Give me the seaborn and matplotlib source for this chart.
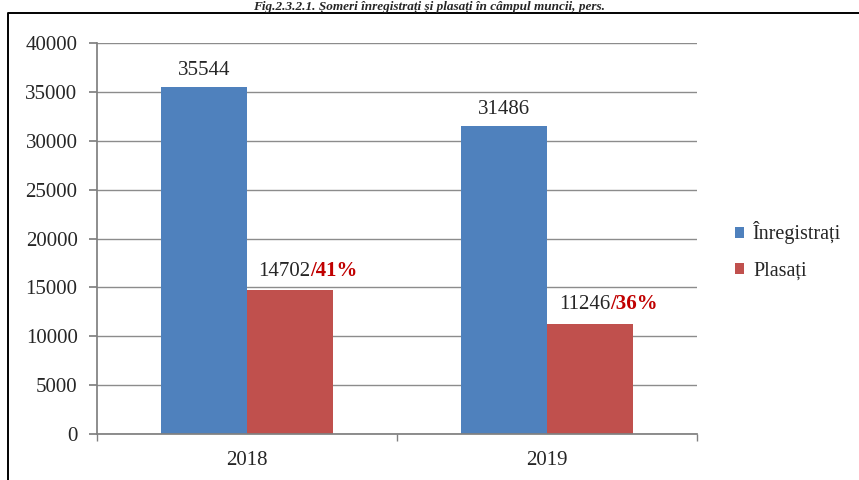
import numpy as np
import pandas as pd
import seaborn as sns
import matplotlib.pyplot as plt
from matplotlib.lines import Line2D

# chart data
years = ['2018', '2019']
registered = [35544, 31486]
placed = [14702, 11246]
placed_pct = [41, 36]
series_names = ['Înregistrați', 'Plasați']

df = pd.DataFrame({
    'an': years * 2,
    'serie': [series_names[0]] * 2 + [series_names[1]] * 2,
    'persoane': registered + placed,
})

sns.set_theme(style='white')
plt.rcParams['font.family'] = ['Liberation Serif', 'DejaVu Serif']

fig = plt.figure(figsize=(8.59, 4.8), dpi=100)
ax = fig.add_axes([97 / 859, 1 - 434 / 480, 600 / 859, 391 / 480])

sns.barplot(data=df, x='an', y='persoane', hue='serie', order=years,
            hue_order=series_names, palette=['#4F81BD', '#C0504D'],
            width=0.573, saturation=1, edgecolor='none', ax=ax)

ax.set_ylim(0, 40000)
ax.set_xlim(-0.5, 1.5)
ax.set_yticks(np.arange(0, 40001, 5000))
ax.yaxis.grid(True, color='#8c8c8c', linewidth=1)
ax.set_axisbelow(True)
ax.set_xlabel('')
ax.set_ylabel('')
for side in ['top', 'right']:
    ax.spines[side].set_visible(False)
for side in ['left', 'bottom']:
    ax.spines[side].set_color('#808080')
ax.tick_params(axis='y', left=True, length=6, color='#808080', labelsize=15, pad=8)
ax.tick_params(axis='x', bottom=False, labelsize=15, pad=6)
ax.set_xticks([-0.5, 0.5, 1.5], minor=True)
ax.tick_params(axis='x', which='minor', bottom=True, length=5, color='#808080')

# value labels
for bar, val in zip(ax.containers[0], registered):
    cx = bar.get_x() + bar.get_width() / 2
    ax.annotate(str(val), (cx, val), xytext=(0, 5), textcoords='offset points',
                ha='center', va='bottom', fontsize=15)
for bar, val, pct in zip(ax.containers[1], placed, placed_pct):
    cx = bar.get_x() + bar.get_width() / 2
    ax.annotate(str(val), (cx, val), xytext=(14.5, 7), textcoords='offset points',
                ha='right', va='bottom', fontsize=15)
    ax.annotate(f'/{pct}%', (cx, val), xytext=(14.5, 7), textcoords='offset points',
                ha='left', va='bottom', fontsize=15, fontweight='bold',
                color='#C00000')

ax.legend(loc='center left', bbox_to_anchor=(717 / 859, 1 - 251 / 480),
          bbox_transform=fig.transFigure, frameon=False, fontsize=14.5,
          handlelength=0.45, handleheight=0.45, handletextpad=0.45,
          labelspacing=0.85)

# outer frame (left and top edges visible) and title
fig.add_artist(Line2D([8 / 859, 8 / 859, 1], [0, 1 - 13 / 480, 1 - 13 / 480],
                      transform=fig.transFigure, color='black', linewidth=1.4))
fig.text(0.5, 1 - 10 / 480,
         'Fig.2.3.2.1. Șomeri înregistrați și plasați în câmpul muncii, pers.',
         ha='center', va='baseline', fontsize=9.5, fontweight='bold',
         fontstyle='italic')

fig.savefig('out.png', dpi=100)
